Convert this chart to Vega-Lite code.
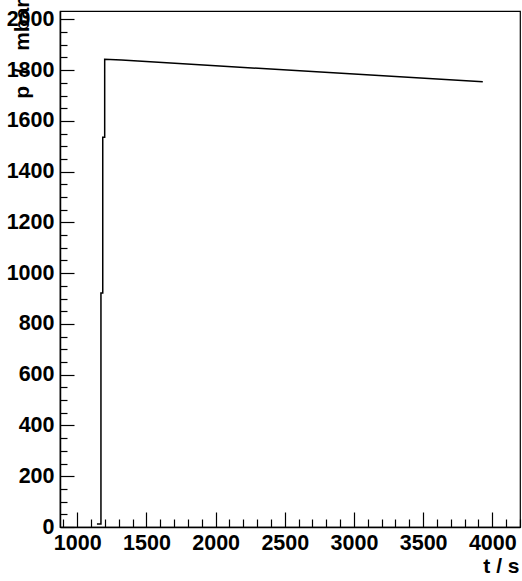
{
  "$schema": "https://vega.github.io/schema/vega-lite/v6.json",
  "autosize": {"type": "none"},
  "padding": {"left": 60, "top": 11, "right": 2, "bottom": 54},
  "width": 460,
  "height": 516,
  "background": "white",
  "config": {
    "view": {"stroke": "black", "strokeWidth": 1.2},
    "font": "Liberation Sans",
    "axis": {
      "labelFont": "Liberation Sans",
      "labelFontWeight": "bold",
      "labelFontSize": 21.5,
      "labelColor": "black",
      "titleFont": "Liberation Sans",
      "titleFontWeight": "bold",
      "titleFontSize": 21,
      "titleColor": "black",
      "domainColor": "black",
      "domainWidth": 1.5,
      "tickColor": "black",
      "tickWidth": 1.2,
      "grid": false,
      "labelOverlap": false,
      "labelFlush": false,
      "labelBound": false
    }
  },
  "data": {
    "values": [
      {"i": 0, "t": 1142, "p": 12},
      {"i": 1, "t": 1171, "p": 12},
      {"i": 2, "t": 1171, "p": 922},
      {"i": 3, "t": 1184, "p": 922},
      {"i": 4, "t": 1184, "p": 1536},
      {"i": 5, "t": 1198, "p": 1536},
      {"i": 6, "t": 1198, "p": 1843},
      {"i": 7, "t": 1320, "p": 1840},
      {"i": 8, "t": 2000, "p": 1817},
      {"i": 9, "t": 3000, "p": 1785},
      {"i": 10, "t": 3931, "p": 1754}
    ]
  },
  "mark": {"type": "line", "color": "black", "strokeWidth": 1.5, "clip": true},
  "encoding": {
    "order": {"field": "i", "type": "quantitative"},
    "x": {
      "field": "t",
      "type": "quantitative",
      "scale": {"domain": [875, 4200], "nice": false, "zero": false},
      "axis": {
        "title": "t / s",
        "values": [900, 1000, 1100, 1200, 1300, 1400, 1500, 1600, 1700, 1800, 1900, 2000, 2100, 2200, 2300, 2400, 2500, 2600, 2700, 2800, 2900, 3000, 3100, 3200, 3300, 3400, 3500, 3600, 3700, 3800, 3900, 4000, 4100, 4200],
        "format": "d",
        "labelExpr": "datum.value % 500 === 0 ? datum.label : ''",
        "tickSize": {"condition": {"test": "datum.value % 500 === 0", "value": -15}, "value": -8},
        "labelPadding": 20,
        "labelBaseline": "top",
        "titleAnchor": "end",
        "titleAlign": "right",
        "titleBaseline": "alphabetic",
        "titleX": 459,
        "titleY": 45
      }
    },
    "y": {
      "field": "p",
      "type": "quantitative",
      "scale": {"domain": [0, 2033], "nice": false, "zero": false},
      "axis": {
        "title": "p \u00a0/\u00a0\u00a0 mbar",
        "values": [0, 50, 100, 150, 200, 250, 300, 350, 400, 450, 500, 550, 600, 650, 700, 750, 800, 850, 900, 950, 1000, 1050, 1100, 1150, 1200, 1250, 1300, 1350, 1400, 1450, 1500, 1550, 1600, 1650, 1700, 1750, 1800, 1850, 1900, 1950, 2000],
        "format": "d",
        "labelExpr": "datum.value % 200 === 0 ? datum.label : ''",
        "tickSize": {"condition": {"test": "datum.value % 200 === 0", "value": -14}, "value": -7},
        "labelPadding": 20,
        "titleAngle": 270,
        "titleAnchor": "end",
        "titleAlign": "right",
        "titleBaseline": "alphabetic",
        "titleX": -32,
        "titleY": -12
      }
    }
  }
}
